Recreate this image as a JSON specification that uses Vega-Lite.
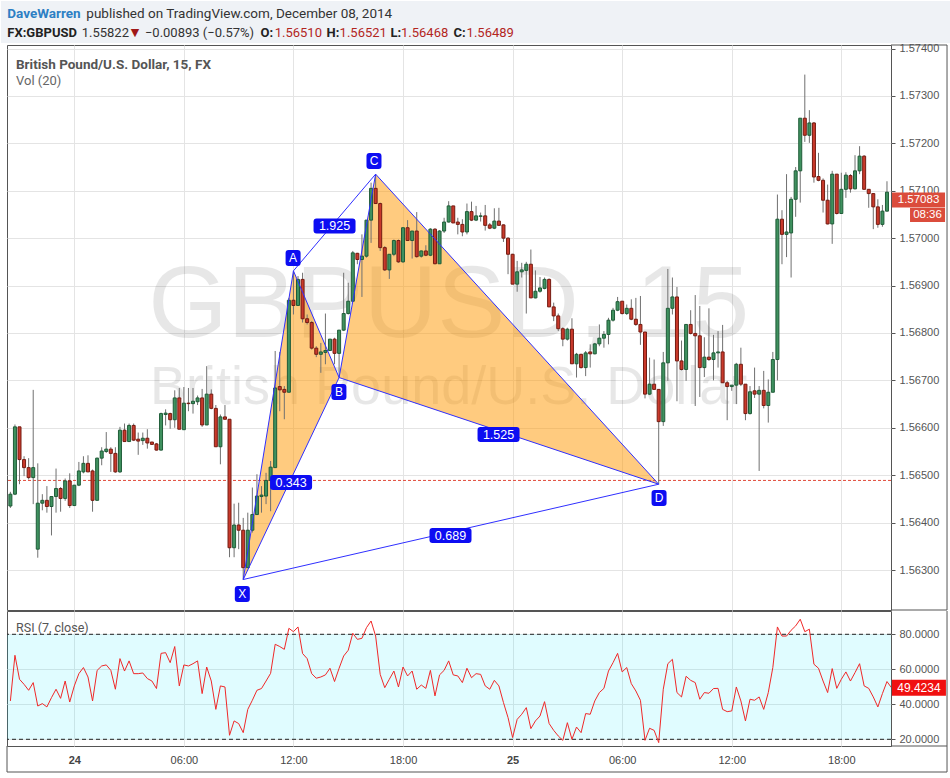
{
"$schema":"https://vega.github.io/schema/vega-lite/v6.json",
"background":"white",
"padding":{"left":0,"top":0,"right":0,"bottom":0},
"spacing":1,
"bounds":"flush",
"data":{"values":[{}]},
"config":{"view":{"stroke":"#555555","strokeWidth":1},"scale":{"continuousPadding":0}},
"datasets":{
"k":[
{"t":-3.5,"o":1.56435,"h":1.56465,"l":1.56431,"c":1.5646},
{"t":-3.25,"o":1.5646,"h":1.56607,"l":1.56458,"c":1.56602},
{"t":-3,"o":1.56602,"h":1.56602,"l":1.56481,"c":1.56533},
{"t":-2.75,"o":1.56533,"h":1.5654,"l":1.56498,"c":1.56516},
{"t":-2.5,"o":1.56516,"h":1.56536,"l":1.56491,"c":1.56495},
{"t":-2.25,"o":1.56495,"h":1.5668,"l":1.56439,"c":1.56516},
{"t":-2,"o":1.56344,"h":1.56525,"l":1.56326,"c":1.56441},
{"t":-1.75,"o":1.56441,"h":1.5646,"l":1.56426,"c":1.56447},
{"t":-1.5,"o":1.56447,"h":1.56477,"l":1.56421,"c":1.56434},
{"t":-1.25,"o":1.56434,"h":1.56455,"l":1.56373,"c":1.56455},
{"t":-1,"o":1.56455,"h":1.56514,"l":1.56421,"c":1.56472},
{"t":-0.75,"o":1.56472,"h":1.56475,"l":1.56423,"c":1.56451},
{"t":-0.5,"o":1.56451,"h":1.56493,"l":1.56446,"c":1.56488},
{"t":-0.25,"o":1.56488,"h":1.56504,"l":1.56431,"c":1.56436},
{"t":0,"o":1.56436,"h":1.56479,"l":1.56435,"c":1.56479},
{"t":0.25,"o":1.56479,"h":1.56528,"l":1.56477,"c":1.56509},
{"t":0.5,"o":1.56507,"h":1.5654,"l":1.56504,"c":1.56525},
{"t":0.75,"o":1.56525,"h":1.56542,"l":1.56507,"c":1.56507},
{"t":1,"o":1.56509,"h":1.56512,"l":1.56423,"c":1.56447},
{"t":1.25,"o":1.56447,"h":1.56537,"l":1.56447,"c":1.56536},
{"t":1.5,"o":1.56536,"h":1.56559,"l":1.56521,"c":1.56551},
{"t":1.75,"o":1.5655,"h":1.56591,"l":1.56547,"c":1.56555},
{"t":2,"o":1.56555,"h":1.56559,"l":1.56507,"c":1.56546},
{"t":2.25,"o":1.56546,"h":1.56559,"l":1.56505,"c":1.56507},
{"t":2.5,"o":1.56507,"h":1.56602,"l":1.56505,"c":1.56595},
{"t":2.75,"o":1.56595,"h":1.56609,"l":1.56571,"c":1.56571},
{"t":3,"o":1.56571,"h":1.56609,"l":1.56571,"c":1.56605},
{"t":3.25,"o":1.56605,"h":1.56609,"l":1.56572,"c":1.56574},
{"t":3.5,"o":1.56576,"h":1.5659,"l":1.56543,"c":1.56572},
{"t":3.75,"o":1.56573,"h":1.5659,"l":1.56564,"c":1.56578},
{"t":4,"o":1.56578,"h":1.56597,"l":1.56556,"c":1.56568},
{"t":4.25,"o":1.5657,"h":1.5657,"l":1.56564,"c":1.56565},
{"t":4.5,"o":1.56566,"h":1.56568,"l":1.56552,"c":1.56553},
{"t":4.75,"o":1.56553,"h":1.56632,"l":1.56552,"c":1.5663},
{"t":5,"o":1.56628,"h":1.56639,"l":1.56605,"c":1.56631},
{"t":5.25,"o":1.5663,"h":1.56632,"l":1.56598,"c":1.56617},
{"t":5.5,"o":1.56617,"h":1.56679,"l":1.566,"c":1.56663},
{"t":5.75,"o":1.56663,"h":1.56684,"l":1.56597,"c":1.56597},
{"t":6,"o":1.56596,"h":1.56686,"l":1.56596,"c":1.56652},
{"t":6.25,"o":1.56652,"h":1.56684,"l":1.56635,"c":1.56651},
{"t":6.5,"o":1.56651,"h":1.56684,"l":1.5663,"c":1.56656},
{"t":6.75,"o":1.56655,"h":1.56668,"l":1.56648,"c":1.56663},
{"t":7,"o":1.56663,"h":1.56682,"l":1.56602,"c":1.56606},
{"t":7.25,"o":1.56606,"h":1.5673,"l":1.56606,"c":1.56671},
{"t":7.5,"o":1.56671,"h":1.56681,"l":1.56639,"c":1.56641},
{"t":7.75,"o":1.56641,"h":1.56648,"l":1.5656,"c":1.5656},
{"t":8,"o":1.5656,"h":1.56628,"l":1.56523,"c":1.56623},
{"t":8.25,"o":1.56623,"h":1.56648,"l":1.56618,"c":1.56618},
{"t":8.5,"o":1.56618,"h":1.56618,"l":1.56327,"c":1.56347},
{"t":8.75,"o":1.56347,"h":1.5644,"l":1.56327,"c":1.56395},
{"t":9,"o":1.56395,"h":1.56442,"l":1.56344,"c":1.56384},
{"t":9.25,"o":1.56384,"h":1.5641,"l":1.5628,"c":1.56305},
{"t":9.5,"o":1.56305,"h":1.56421,"l":1.56305,"c":1.56384},
{"t":9.75,"o":1.56384,"h":1.56474,"l":1.56379,"c":1.56417},
{"t":10,"o":1.56417,"h":1.56502,"l":1.56417,"c":1.56456},
{"t":10.25,"o":1.56455,"h":1.56477,"l":1.56421,"c":1.56458},
{"t":10.5,"o":1.56456,"h":1.56505,"l":1.56439,"c":1.56489},
{"t":10.75,"o":1.56489,"h":1.5653,"l":1.56424,"c":1.56517},
{"t":11,"o":1.56516,"h":1.56762,"l":1.56516,"c":1.56684},
{"t":11.25,"o":1.56687,"h":1.5676,"l":1.56635,"c":1.5668},
{"t":11.5,"o":1.56681,"h":1.56688,"l":1.56618,"c":1.56675},
{"t":11.75,"o":1.56675,"h":1.56874,"l":1.56675,"c":1.56869},
{"t":12,"o":1.56869,"h":1.56931,"l":1.56839,"c":1.56858},
{"t":12.25,"o":1.56858,"h":1.5692,"l":1.56857,"c":1.56913},
{"t":12.5,"o":1.56913,"h":1.56927,"l":1.56822,"c":1.5683},
{"t":12.75,"o":1.5683,"h":1.56839,"l":1.56818,"c":1.56822},
{"t":13,"o":1.56822,"h":1.56825,"l":1.56765,"c":1.56768},
{"t":13.25,"o":1.56768,"h":1.56772,"l":1.56749,"c":1.56755},
{"t":13.5,"o":1.56755,"h":1.56779,"l":1.56716,"c":1.5676},
{"t":13.75,"o":1.56759,"h":1.56841,"l":1.56734,"c":1.56763},
{"t":14,"o":1.56763,"h":1.56787,"l":1.56762,"c":1.56787},
{"t":14.25,"o":1.56787,"h":1.5679,"l":1.56734,"c":1.56757},
{"t":14.5,"o":1.56757,"h":1.56806,"l":1.56706,"c":1.56806},
{"t":14.75,"o":1.56806,"h":1.56927,"l":1.56804,"c":1.56841},
{"t":15,"o":1.56841,"h":1.56906,"l":1.56839,"c":1.56867},
{"t":15.25,"o":1.56867,"h":1.56973,"l":1.56866,"c":1.56969},
{"t":15.5,"o":1.56968,"h":1.56969,"l":1.56945,"c":1.56955},
{"t":15.75,"o":1.56955,"h":1.57008,"l":1.56876,"c":1.56962},
{"t":16,"o":1.56962,"h":1.57038,"l":1.56959,"c":1.57038},
{"t":16.25,"o":1.57038,"h":1.57117,"l":1.5699,"c":1.57105},
{"t":16.5,"o":1.57105,"h":1.57135,"l":1.57073,"c":1.57073},
{"t":16.75,"o":1.57073,"h":1.57075,"l":1.56973,"c":1.5698},
{"t":17,"o":1.5698,"h":1.56983,"l":1.56931,"c":1.56933},
{"t":17.25,"o":1.56933,"h":1.56966,"l":1.56914,"c":1.56966},
{"t":17.5,"o":1.56966,"h":1.56997,"l":1.56962,"c":1.56995},
{"t":17.75,"o":1.56995,"h":1.56997,"l":1.56948,"c":1.5695},
{"t":18,"o":1.5695,"h":1.57023,"l":1.56948,"c":1.57022},
{"t":18.25,"o":1.57022,"h":1.57038,"l":1.56994,"c":1.56995},
{"t":18.5,"o":1.56995,"h":1.57015,"l":1.56957,"c":1.57015},
{"t":18.75,"o":1.57015,"h":1.57055,"l":1.56959,"c":1.56961},
{"t":19,"o":1.56962,"h":1.56974,"l":1.56959,"c":1.56973},
{"t":19.25,"o":1.56973,"h":1.56985,"l":1.56962,"c":1.56964},
{"t":19.5,"o":1.56964,"h":1.57021,"l":1.56962,"c":1.57019},
{"t":19.75,"o":1.57019,"h":1.57021,"l":1.56945,"c":1.56946},
{"t":20,"o":1.56946,"h":1.57017,"l":1.56946,"c":1.57015},
{"t":20.25,"o":1.57015,"h":1.57043,"l":1.57011,"c":1.57034},
{"t":20.5,"o":1.57034,"h":1.57078,"l":1.57033,"c":1.57068},
{"t":20.75,"o":1.57068,"h":1.57068,"l":1.57032,"c":1.57032},
{"t":21,"o":1.57034,"h":1.57043,"l":1.57008,"c":1.57029},
{"t":21.25,"o":1.57029,"h":1.5704,"l":1.57004,"c":1.57013},
{"t":21.5,"o":1.57013,"h":1.57073,"l":1.57008,"c":1.57056},
{"t":21.75,"o":1.57056,"h":1.57077,"l":1.57036,"c":1.57038},
{"t":22,"o":1.57038,"h":1.57068,"l":1.57036,"c":1.57047},
{"t":22.25,"o":1.57046,"h":1.57054,"l":1.57035,"c":1.57047},
{"t":22.5,"o":1.57047,"h":1.5707,"l":1.57016,"c":1.57027},
{"t":22.75,"o":1.57028,"h":1.57032,"l":1.57019,"c":1.57021},
{"t":23,"o":1.57021,"h":1.57063,"l":1.57019,"c":1.57036},
{"t":23.25,"o":1.57036,"h":1.57064,"l":1.57026,"c":1.57027},
{"t":23.5,"o":1.57028,"h":1.57029,"l":1.56992,"c":1.57},
{"t":23.75,"o":1.57,"h":1.57002,"l":1.56924,"c":1.56966},
{"t":24,"o":1.56966,"h":1.56967,"l":1.56903,"c":1.56903},
{"t":24.25,"o":1.56903,"h":1.56952,"l":1.56887,"c":1.56929},
{"t":24.5,"o":1.56929,"h":1.56948,"l":1.56917,"c":1.56933},
{"t":24.75,"o":1.56932,"h":1.5695,"l":1.56841,"c":1.56945},
{"t":25,"o":1.56945,"h":1.56976,"l":1.56874,"c":1.56874},
{"t":25.25,"o":1.56874,"h":1.56932,"l":1.56873,"c":1.56888},
{"t":25.5,"o":1.56888,"h":1.56918,"l":1.56885,"c":1.56895},
{"t":25.75,"o":1.56894,"h":1.56917,"l":1.56892,"c":1.56913},
{"t":26,"o":1.56913,"h":1.56915,"l":1.56855,"c":1.56855},
{"t":26.25,"o":1.56855,"h":1.56864,"l":1.56825,"c":1.56836},
{"t":26.5,"o":1.56836,"h":1.56841,"l":1.56804,"c":1.56809},
{"t":26.75,"o":1.56809,"h":1.56812,"l":1.56772,"c":1.56787},
{"t":27,"o":1.56787,"h":1.56811,"l":1.56784,"c":1.56808},
{"t":27.25,"o":1.56808,"h":1.56831,"l":1.56735,"c":1.56735},
{"t":27.5,"o":1.56735,"h":1.56758,"l":1.56706,"c":1.56755},
{"t":27.75,"o":1.56755,"h":1.56756,"l":1.56725,"c":1.56727},
{"t":28,"o":1.56727,"h":1.56762,"l":1.56709,"c":1.56758},
{"t":28.25,"o":1.5676,"h":1.56776,"l":1.56727,"c":1.56756},
{"t":28.5,"o":1.56756,"h":1.56779,"l":1.56755,"c":1.56777},
{"t":28.75,"o":1.56777,"h":1.56818,"l":1.56772,"c":1.56789},
{"t":29,"o":1.56789,"h":1.56804,"l":1.56769,"c":1.56797},
{"t":29.25,"o":1.56797,"h":1.56832,"l":1.56776,"c":1.56827},
{"t":29.5,"o":1.56827,"h":1.56853,"l":1.56824,"c":1.56848},
{"t":29.75,"o":1.56848,"h":1.56876,"l":1.56846,"c":1.56866},
{"t":30,"o":1.56867,"h":1.56867,"l":1.56839,"c":1.56841},
{"t":30.25,"o":1.56841,"h":1.5686,"l":1.56838,"c":1.56852},
{"t":30.5,"o":1.56852,"h":1.56871,"l":1.56827,"c":1.56829},
{"t":30.75,"o":1.56829,"h":1.56874,"l":1.56815,"c":1.56818},
{"t":31,"o":1.56818,"h":1.56878,"l":1.56775,"c":1.56802},
{"t":31.25,"o":1.56802,"h":1.56802,"l":1.56662,"c":1.56671},
{"t":31.5,"o":1.56671,"h":1.56748,"l":1.56669,"c":1.56692},
{"t":31.75,"o":1.56692,"h":1.56744,"l":1.5668,"c":1.56681},
{"t":32,"o":1.56681,"h":1.56681,"l":1.56481,"c":1.56613},
{"t":32.25,"o":1.56613,"h":1.5676,"l":1.56604,"c":1.56737},
{"t":32.5,"o":1.56737,"h":1.56935,"l":1.56699,"c":1.56852},
{"t":32.75,"o":1.56852,"h":1.56917,"l":1.56839,"c":1.56876},
{"t":33,"o":1.56876,"h":1.56897,"l":1.56656,"c":1.56741},
{"t":33.25,"o":1.56741,"h":1.56784,"l":1.56721,"c":1.56723},
{"t":33.5,"o":1.56723,"h":1.56818,"l":1.56699,"c":1.56818},
{"t":33.75,"o":1.56818,"h":1.56848,"l":1.56797,"c":1.56799},
{"t":34,"o":1.56799,"h":1.5688,"l":1.56646,"c":1.56794},
{"t":34.25,"o":1.56794,"h":1.56857,"l":1.56665,"c":1.56727},
{"t":34.5,"o":1.56727,"h":1.56791,"l":1.56707,"c":1.56749},
{"t":34.75,"o":1.56749,"h":1.56852,"l":1.56741,"c":1.56744},
{"t":35,"o":1.56744,"h":1.56796,"l":1.567,"c":1.56758},
{"t":35.25,"o":1.56758,"h":1.56804,"l":1.56727,"c":1.5676},
{"t":35.5,"o":1.5676,"h":1.56817,"l":1.56695,"c":1.56695},
{"t":35.75,"o":1.56695,"h":1.56699,"l":1.56616,"c":1.56687},
{"t":36,"o":1.56687,"h":1.5669,"l":1.56678,"c":1.5669},
{"t":36.25,"o":1.5669,"h":1.56737,"l":1.5665,"c":1.56734},
{"t":36.5,"o":1.56734,"h":1.56769,"l":1.56688,"c":1.56692},
{"t":36.75,"o":1.56692,"h":1.56692,"l":1.56616,"c":1.5663},
{"t":37,"o":1.5663,"h":1.56688,"l":1.56628,"c":1.56676},
{"t":37.25,"o":1.56678,"h":1.56727,"l":1.56663,"c":1.56671},
{"t":37.5,"o":1.56671,"h":1.56688,"l":1.56509,"c":1.56679},
{"t":37.75,"o":1.56679,"h":1.5672,"l":1.56641,"c":1.56647},
{"t":38,"o":1.56647,"h":1.56702,"l":1.56611,"c":1.56675},
{"t":38.25,"o":1.56675,"h":1.5676,"l":1.56675,"c":1.56744},
{"t":38.5,"o":1.56744,"h":1.57092,"l":1.567,"c":1.5704},
{"t":38.75,"o":1.5704,"h":1.57059,"l":1.56945,"c":1.57008},
{"t":39,"o":1.57008,"h":1.57135,"l":1.5696,"c":1.57013},
{"t":39.25,"o":1.57011,"h":1.57087,"l":1.56917,"c":1.57082},
{"t":39.5,"o":1.57082,"h":1.5715,"l":1.57045,"c":1.57142},
{"t":39.75,"o":1.57142,"h":1.57253,"l":1.57075,"c":1.57253},
{"t":40,"o":1.57253,"h":1.57345,"l":1.57203,"c":1.57217},
{"t":40.25,"o":1.57217,"h":1.5727,"l":1.57201,"c":1.57243},
{"t":40.5,"o":1.57243,"h":1.57245,"l":1.57117,"c":1.57129},
{"t":40.75,"o":1.5713,"h":1.5718,"l":1.5712,"c":1.57122},
{"t":41,"o":1.57122,"h":1.57126,"l":1.57054,"c":1.5708},
{"t":41.25,"o":1.5708,"h":1.57113,"l":1.57029,"c":1.5703},
{"t":41.5,"o":1.5703,"h":1.57142,"l":1.56988,"c":1.57135},
{"t":41.75,"o":1.57135,"h":1.57135,"l":1.5705,"c":1.57052},
{"t":42,"o":1.57052,"h":1.57138,"l":1.57052,"c":1.57103},
{"t":42.25,"o":1.57103,"h":1.57139,"l":1.57085,"c":1.57133},
{"t":42.5,"o":1.57132,"h":1.57135,"l":1.57096,"c":1.57104},
{"t":42.75,"o":1.57104,"h":1.57175,"l":1.57103,"c":1.57142},
{"t":43,"o":1.57142,"h":1.57194,"l":1.57135,"c":1.57173},
{"t":43.25,"o":1.57173,"h":1.57175,"l":1.57103,"c":1.57103},
{"t":43.5,"o":1.57103,"h":1.57103,"l":1.57064,"c":1.57094},
{"t":43.75,"o":1.57094,"h":1.57094,"l":1.57019,"c":1.57066},
{"t":44,"o":1.57066,"h":1.57082,"l":1.57022,"c":1.57029},
{"t":44.25,"o":1.57029,"h":1.5707,"l":1.57024,"c":1.57057},
{"t":44.5,"o":1.57057,"h":1.5712,"l":1.57056,"c":1.57097}
],
"r":[
{"t":-3.5,"v":41.9},{"t":-3.25,"v":68},{"t":-3,"v":54.3},{"t":-2.75,"v":51.4},{"t":-2.5,"v":48},{"t":-2.25,"v":52.4},{"t":-2,"v":39},{"t":-1.75,"v":40.4},{"t":-1.5,"v":38.5},{"t":-1.25,"v":43.8},{"t":-1,"v":48.6},{"t":-0.75,"v":43.4},{"t":-0.5,"v":53.3},{"t":-0.25,"v":41.3},{"t":0,"v":50.5},{"t":0.25,"v":57.5},{"t":0.5,"v":61},{"t":0.75,"v":55.6},{"t":1,"v":41.9},{"t":1.25,"v":59.4},{"t":1.5,"v":61.9},{"t":1.75,"v":62.5},{"t":2,"v":59.4},{"t":2.25,"v":48.6},{"t":2.5,"v":66.1},{"t":2.75,"v":59},{"t":3,"v":64.8},{"t":3.25,"v":57.5},{"t":3.5,"v":57.5},{"t":3.75,"v":57.9},{"t":4,"v":54.7},{"t":4.25,"v":53.3},{"t":4.5,"v":49},{"t":4.75,"v":69.1},{"t":5,"v":69.5},{"t":5.25,"v":63.8},{"t":5.5,"v":73},{"t":5.75,"v":50.5},{"t":6,"v":62.5},{"t":6.25,"v":61.9},{"t":6.5,"v":63.2},{"t":6.75,"v":64.8},{"t":7,"v":46.1},{"t":7.25,"v":61.3},{"t":7.5,"v":53.3},{"t":7.75,"v":37.1},{"t":8,"v":50.5},{"t":8.25,"v":49.9},{"t":8.5,"v":22.3},{"t":8.75,"v":30.5},{"t":9,"v":29},{"t":9.25,"v":23.8},{"t":9.5,"v":37.1},{"t":9.75,"v":42.3},{"t":10,"v":48},{"t":10.25,"v":49},{"t":10.5,"v":53.3},{"t":10.75,"v":57.7},{"t":11,"v":74.3},{"t":11.25,"v":73},{"t":11.5,"v":71.4},{"t":11.75,"v":83.4},{"t":12,"v":81.5},{"t":12.25,"v":84.2},{"t":12.5,"v":69},{"t":12.75,"v":66.1},{"t":13,"v":57.5},{"t":13.25,"v":54.9},{"t":13.5,"v":55.6},{"t":13.75,"v":56.8},{"t":14,"v":60.6},{"t":14.25,"v":53},{"t":14.5,"v":60.6},{"t":14.75,"v":67.6},{"t":15,"v":70.9},{"t":15.25,"v":80.6},{"t":15.5,"v":77.1},{"t":15.75,"v":77.7},{"t":16,"v":83.8},{"t":16.25,"v":87.6},{"t":16.5,"v":79},{"t":16.75,"v":57.1},{"t":17,"v":49.5},{"t":17.25,"v":54.3},{"t":17.5,"v":59},{"t":17.75,"v":49.9},{"t":18,"v":61.3},{"t":18.25,"v":56.2},{"t":18.5,"v":59},{"t":18.75,"v":48.6},{"t":19,"v":51},{"t":19.25,"v":49.1},{"t":19.5,"v":59.4},{"t":19.75,"v":44.8},{"t":20,"v":56.8},{"t":20.25,"v":59.4},{"t":20.5,"v":64.8},{"t":20.75,"v":56.8},{"t":21,"v":56.2},{"t":21.25,"v":52.4},{"t":21.5,"v":60.6},{"t":21.75,"v":55.2},{"t":22,"v":57.5},{"t":22.25,"v":57.1},{"t":22.5,"v":50.5},{"t":22.75,"v":48.6},{"t":23,"v":53.7},{"t":23.25,"v":50.5},{"t":23.5,"v":41},{"t":23.75,"v":32.4},{"t":24,"v":21},{"t":24.25,"v":31.4},{"t":24.5,"v":34.3},{"t":24.75,"v":38.1},{"t":25,"v":26.1},{"t":25.25,"v":30.5},{"t":25.5,"v":33.3},{"t":25.75,"v":41.5},{"t":26,"v":29},{"t":26.25,"v":25.1},{"t":26.5,"v":21.9},{"t":26.75,"v":19.4},{"t":27,"v":29.5},{"t":27.25,"v":20},{"t":27.5,"v":27},{"t":27.75,"v":23.8},{"t":28,"v":34.7},{"t":28.25,"v":34.3},{"t":28.5,"v":41.9},{"t":28.75,"v":46.7},{"t":29,"v":49.1},{"t":29.25,"v":59},{"t":29.5,"v":63.8},{"t":29.75,"v":69.1},{"t":30,"v":58.5},{"t":30.25,"v":61},{"t":30.5,"v":51.8},{"t":30.75,"v":47.6},{"t":31,"v":42.3},{"t":31.25,"v":19.4},{"t":31.5,"v":26.3},{"t":31.75,"v":25.1},{"t":32,"v":18.1},{"t":32.25,"v":48.6},{"t":32.5,"v":63.2},{"t":32.75,"v":65.7},{"t":33,"v":46.7},{"t":33.25,"v":44.2},{"t":33.5,"v":56},{"t":33.75,"v":53.7},{"t":34,"v":52.4},{"t":34.25,"v":42.9},{"t":34.5,"v":46.7},{"t":34.75,"v":46.3},{"t":35,"v":49},{"t":35.25,"v":49.1},{"t":35.5,"v":37.1},{"t":35.75,"v":35.8},{"t":36,"v":36.2},{"t":36.25,"v":49.9},{"t":36.5,"v":41.9},{"t":36.75,"v":30.5},{"t":37,"v":42.9},{"t":37.25,"v":42.3},{"t":37.5,"v":44.2},{"t":37.75,"v":37.1},{"t":38,"v":46.7},{"t":38.25,"v":61},{"t":38.5,"v":84.2},{"t":38.75,"v":79},{"t":39,"v":79},{"t":39.25,"v":82.3},{"t":39.5,"v":84.8},{"t":39.75,"v":88.6},{"t":40,"v":81.5},{"t":40.25,"v":82.9},{"t":40.5,"v":62.9},{"t":40.75,"v":60.6},{"t":41,"v":53.3},{"t":41.25,"v":46.7},{"t":41.5,"v":60.4},{"t":41.75,"v":49.1},{"t":42,"v":54.3},{"t":42.25,"v":58.5},{"t":42.5,"v":53.3},{"t":42.75,"v":58.1},{"t":43,"v":63.2},{"t":43.25,"v":50.5},{"t":43.5,"v":49.1},{"t":43.75,"v":44.2},{"t":44,"v":38.5},{"t":44.25,"v":46.1},{"t":44.5,"v":53},{"t":44.75,"v":49.42}
],
"tri":[
{"g":"XAB","t":9.25,"y":1.5628,"y2":1.5628},{"g":"XAB","t":12,"y":1.56931,"y2":1.56503},{"g":"XAB","t":14.5,"y":1.56706,"y2":1.56706},
{"g":"BCD","t":14.5,"y":1.56706,"y2":1.56706},{"g":"BCD","t":16.5,"y":1.57135,"y2":1.5668},{"g":"BCD","t":32,"y":1.56481,"y2":1.56481}
],
"seg":[
{"t":9.25,"p":1.5628,"t2":12,"p2":1.56931},
{"t":12,"p":1.56931,"t2":14.5,"p2":1.56706},
{"t":14.5,"p":1.56706,"t2":16.5,"p2":1.57135},
{"t":16.5,"p":1.57135,"t2":32,"p2":1.56481},
{"t":9.25,"p":1.5628,"t2":14.5,"p2":1.56706},
{"t":14.5,"p":1.56706,"t2":32,"p2":1.56481},
{"t":12,"p":1.56931,"t2":16.5,"p2":1.57135},
{"t":9.25,"p":1.5628,"t2":32,"p2":1.56481}
],
"letters":[
{"t":9.2,"p":1.562494,"s":"X"},{"t":11.98,"p":1.569581,"s":"A"},{"t":14.49,"p":1.566755,"s":"B"},{"t":16.41,"p":1.571627,"s":"C"},{"t":32.02,"p":1.564519,"s":"D"}
],
"ratios":[
{"t":14.25,"p":1.570256,"s":"1.925"},{"t":11.87,"p":1.564846,"s":"0.343"},{"t":23.23,"p":1.565858,"s":"1.525"},{"t":20.6,"p":1.563728,"s":"0.689"}
]
},
"vconcat":[
{
"width":884,"height":565,
"layer":[
{"mark":{"type":"rect","color":"#eff2f6","opacity":1},
 "encoding":{"x":{"datum":-4.0136,"type":"quantitative","scale":{"domain":[-3.685,44.72],"padding":0},"title":null,"axis":{"values":[0,6,12,18,24,30,36,42],"labels":false,"ticks":false,"domain":false,"grid":true,"gridColor":"#e4e4e4"}},
 "x2":{"datum":48.007},
 "y":{"datum":1.575002,"type":"quantitative","scale":{"domain":[1.562157,1.574074]},"title":null,"axis":{"orient":"right","values":[1.563,1.564,1.565,1.566,1.567,1.568,1.569,1.57,1.571,1.572,1.573,1.574],"format":".5f","grid":true,"gridColor":"#e4e4e4","domain":false,"tickSize":4,"tickColor":"#555555","labelPadding":4,"labelFont":"Liberation Sans","labelFontSize":11,"labelColor":"#555555"}},
 "y2":{"datum":1.574116}}},
{"mark":{"type":"rule","color":"#555555","strokeWidth":1},
 "encoding":{"x":{"datum":47.788,"type":"quantitative","scale":{"domain":[-3.685,44.72]},"title":null}}},
{"mark":{"type":"rule","color":"#555555","strokeWidth":1},
 "encoding":{"x":{"datum":44.72,"type":"quantitative","scale":{"domain":[-3.685,44.72]},"title":null},"x2":{"datum":47.788},"y":{"datum":1.574074,"type":"quantitative","scale":{"domain":[1.562157,1.574074]},"title":null}}},
{"mark":{"type":"rule","color":"#555555","strokeWidth":1},
 "encoding":{"x":{"datum":44.72,"type":"quantitative","scale":{"domain":[-3.685,44.72]},"title":null},"x2":{"datum":47.788},"y":{"datum":1.562157,"type":"quantitative","scale":{"domain":[1.562157,1.574074]},"title":null}}},
{"mark":{"type":"text","text":"GBPUSD, 15","font":"Liberation Sans","fontSize":102,"color":"#000000","opacity":0.09,"align":"center","baseline":"alphabetic"},
 "encoding":{"x":{"datum":20.5,"type":"quantitative","scale":{"domain":[-3.685,44.72]},"title":null},
 "y":{"datum":1.567915,"type":"quantitative","scale":{"domain":[1.562157,1.574074]},"title":null}}},
{"mark":{"type":"text","text":"British Pound/U.S. Dollar","font":"Liberation Sans","fontSize":54,"color":"#000000","opacity":0.09,"align":"center","baseline":"alphabetic"},
 "encoding":{"x":{"datum":20.5,"type":"quantitative","scale":{"domain":[-3.685,44.72]},"title":null},"y":{"datum":1.566502,"type":"quantitative","scale":{"domain":[1.562157,1.574074]},"title":null}}},
{"data":{"name":"tri"},"mark":{"type":"area","color":"#ff9800","opacity":0.5},
 "encoding":{"x":{"field":"t","type":"quantitative","scale":{"domain":[-3.685,44.72]},"title":null},"y":{"field":"y","type":"quantitative","scale":{"domain":[1.562157,1.574074]},"title":null},"y2":{"field":"y2"},"detail":{"field":"g"}}},
{"mark":{"type":"rule","color":"#e04a3a","strokeDash":[3,2],"strokeWidth":1},
 "encoding":{"y":{"datum":1.56489,"type":"quantitative","scale":{"domain":[1.562157,1.574074]},"title":null}}},
{"data":{"name":"k"},"mark":{"type":"rule","color":"#707070","strokeWidth":1},
 "encoding":{"x":{"field":"t","type":"quantitative","scale":{"domain":[-3.685,44.72]},"title":null},"y":{"field":"h","type":"quantitative","scale":{"domain":[1.562157,1.574074]},"title":null},"y2":{"field":"l"}}},
{"data":{"name":"k"},"mark":{"type":"bar","width":3,"strokeWidth":1},
 "encoding":{"x":{"field":"t","type":"quantitative","scale":{"domain":[-3.685,44.72],"padding":0},"title":null},"y":{"field":"o","type":"quantitative","scale":{"domain":[1.562157,1.574074]},"title":null},"y2":{"field":"c"},
 "fill":{"condition":{"test":"datum.c >= datum.o","value":"#3f915f"},"value":"#c9392b"},
 "stroke":{"condition":{"test":"datum.c >= datum.o","value":"#1f5c38"},"value":"#741c12"}}},
{"data":{"name":"seg"},"mark":{"type":"rule","color":"#2f2fff","strokeWidth":1},
 "encoding":{"x":{"field":"t","type":"quantitative","scale":{"domain":[-3.685,44.72]},"title":null},"y":{"field":"p","type":"quantitative","scale":{"domain":[1.562157,1.574074]},"title":null},"x2":{"field":"t2"},"y2":{"field":"p2"}}},
{"data":{"name":"letters"},"mark":{"type":"point","filled":true,"opacity":1,"strokeWidth":0,"color":"#0d0df2","size":256,"shape":"M-0.5625,-1L0.5625,-1Q0.9375,-1 0.9375,-0.625L0.9375,0.625Q0.9375,1 0.5625,1L-0.5625,1Q-0.9375,1 -0.9375,0.625L-0.9375,-0.625Q-0.9375,-1 -0.5625,-1Z"},
 "encoding":{"x":{"field":"t","type":"quantitative","scale":{"domain":[-3.685,44.72]},"title":null},"y":{"field":"p","type":"quantitative","scale":{"domain":[1.562157,1.574074]},"title":null}}},
{"data":{"name":"letters"},"mark":{"type":"text","color":"white","font":"Liberation Sans","fontSize":12,"align":"center","baseline":"middle"},
 "encoding":{"x":{"field":"t","type":"quantitative","scale":{"domain":[-3.685,44.72]},"title":null},"y":{"field":"p","type":"quantitative","scale":{"domain":[1.562157,1.574074]},"title":null},"text":{"field":"s"}}},
{"data":{"name":"ratios"},"mark":{"type":"point","filled":true,"opacity":1,"strokeWidth":0,"color":"#0d0df2","size":1764,"shape":"M-0.857,-0.357L0.857,-0.357Q1,-0.357 1,-0.214L1,0.214Q1,0.357 0.857,0.357L-0.857,0.357Q-1,0.357 -1,0.214L-1,-0.214Q-1,-0.357 -0.857,-0.357Z"},
 "encoding":{"x":{"field":"t","type":"quantitative","scale":{"domain":[-3.685,44.72]},"title":null},"y":{"field":"p","type":"quantitative","scale":{"domain":[1.562157,1.574074]},"title":null}}},
{"data":{"name":"ratios"},"mark":{"type":"text","color":"white","font":"Liberation Sans","fontSize":12.5,"align":"center","baseline":"middle"},
 "encoding":{"x":{"field":"t","type":"quantitative","scale":{"domain":[-3.685,44.72]},"title":null},"y":{"field":"p","type":"quantitative","scale":{"domain":[1.562157,1.574074]},"title":null},"text":{"field":"s"}}},
{"mark":{"type":"text","text":"British Pound/U.S. Dollar, 15, FX","font":"Roboto","fontSize":13.5,"fontWeight":"bold","color":"#555555","align":"left","baseline":"middle"},
 "encoding":{"x":{"datum":-3.192,"type":"quantitative","scale":{"domain":[-3.685,44.72]},"title":null},"y":{"datum":1.573648,"type":"quantitative","scale":{"domain":[1.562157,1.574074]},"title":null}}},
{"mark":{"type":"text","text":"Vol (20)","font":"Roboto","fontSize":13,"color":"#666666","align":"left","baseline":"middle"},
 "encoding":{"x":{"datum":-3.192,"type":"quantitative","scale":{"domain":[-3.685,44.72]},"title":null},"y":{"datum":1.573314,"type":"quantitative","scale":{"domain":[1.562157,1.574074]},"title":null}}},
{"mark":{"type":"text","text":"DaveWarren","font":"Roboto","fontSize":13.5,"fontWeight":"bold","color":"#2d7fc4","align":"left","baseline":"middle"},
 "encoding":{"x":{"datum":-3.669,"type":"quantitative","scale":{"domain":[-3.685,44.72]},"title":null},"y":{"datum":1.574721,"type":"quantitative","scale":{"domain":[1.562157,1.574074]},"title":null}}},
{"mark":{"type":"text","text":"published on TradingView.com, December 08, 2014","font":"Roboto","fontSize":13.5,"color":"#333333","align":"left","baseline":"middle"},
 "encoding":{"x":{"datum":0.657,"type":"quantitative","scale":{"domain":[-3.685,44.72]},"title":null},"y":{"datum":1.574721,"type":"quantitative","scale":{"domain":[1.562157,1.574074]},"title":null}}},
{"mark":{"type":"text","text":"FX:GBPUSD","font":"Roboto","fontSize":13,"fontWeight":"bold","color":"#222222","align":"left","baseline":"middle"},
 "encoding":{"x":{"datum":-3.669,"type":"quantitative","scale":{"domain":[-3.685,44.72]},"title":null},"y":{"datum":1.574335,"type":"quantitative","scale":{"domain":[1.562157,1.574074]},"title":null}}},
{"mark":{"type":"text","text":"1.55822","font":"Roboto","fontSize":13,"color":"#333333","align":"left","baseline":"middle"},
 "encoding":{"x":{"datum":0.405,"type":"quantitative","scale":{"domain":[-3.685,44.72]},"title":null},"y":{"datum":1.574335,"type":"quantitative","scale":{"domain":[1.562157,1.574074]},"title":null}}},
{"mark":{"type":"text","text":"▼","font":"DejaVu Sans","fontSize":11,"color":"#a01818","align":"left","baseline":"middle"},
 "encoding":{"x":{"datum":3.094,"type":"quantitative","scale":{"domain":[-3.685,44.72]},"title":null},"y":{"datum":1.574335,"type":"quantitative","scale":{"domain":[1.562157,1.574074]},"title":null}}},
{"mark":{"type":"text","text":"−0.00893 (−0.57%)","font":"Roboto","fontSize":13,"color":"#333333","align":"left","baseline":"middle"},
 "encoding":{"x":{"datum":3.866,"type":"quantitative","scale":{"domain":[-3.685,44.72]},"title":null},"y":{"datum":1.574335,"type":"quantitative","scale":{"domain":[1.562157,1.574074]},"title":null}}},
{"mark":{"type":"text","text":"O:","font":"Roboto","fontSize":13,"fontWeight":"bold","color":"#222222","align":"left","baseline":"middle"},
 "encoding":{"x":{"datum":10.201,"type":"quantitative","scale":{"domain":[-3.685,44.72]},"title":null},"y":{"datum":1.574335,"type":"quantitative","scale":{"domain":[1.562157,1.574074]},"title":null}}},
{"mark":{"type":"text","text":"1.56510","font":"Roboto","fontSize":13,"color":"#b3261e","align":"left","baseline":"middle"},
 "encoding":{"x":{"datum":10.974,"type":"quantitative","scale":{"domain":[-3.685,44.72]},"title":null},"y":{"datum":1.574335,"type":"quantitative","scale":{"domain":[1.562157,1.574074]},"title":null}}},
{"mark":{"type":"text","text":"H:","font":"Roboto","fontSize":13,"fontWeight":"bold","color":"#222222","align":"left","baseline":"middle"},
 "encoding":{"x":{"datum":13.815,"type":"quantitative","scale":{"domain":[-3.685,44.72]},"title":null},"y":{"datum":1.574335,"type":"quantitative","scale":{"domain":[1.562157,1.574074]},"title":null}}},
{"mark":{"type":"text","text":"1.56521","font":"Roboto","fontSize":13,"color":"#b3261e","align":"left","baseline":"middle"},
 "encoding":{"x":{"datum":14.527,"type":"quantitative","scale":{"domain":[-3.685,44.72]},"title":null},"y":{"datum":1.574335,"type":"quantitative","scale":{"domain":[1.562157,1.574074]},"title":null}}},
{"mark":{"type":"text","text":"L:","font":"Roboto","fontSize":13,"fontWeight":"bold","color":"#222222","align":"left","baseline":"middle"},
 "encoding":{"x":{"datum":17.315,"type":"quantitative","scale":{"domain":[-3.685,44.72]},"title":null},"y":{"datum":1.574335,"type":"quantitative","scale":{"domain":[1.562157,1.574074]},"title":null}}},
{"mark":{"type":"text","text":"1.56468","font":"Roboto","fontSize":13,"color":"#b3261e","align":"left","baseline":"middle"},
 "encoding":{"x":{"datum":17.89,"type":"quantitative","scale":{"domain":[-3.685,44.72]},"title":null},"y":{"datum":1.574335,"type":"quantitative","scale":{"domain":[1.562157,1.574074]},"title":null}}},
{"mark":{"type":"text","text":"C:","font":"Roboto","fontSize":13,"fontWeight":"bold","color":"#222222","align":"left","baseline":"middle"},
 "encoding":{"x":{"datum":20.77,"type":"quantitative","scale":{"domain":[-3.685,44.72]},"title":null},"y":{"datum":1.574335,"type":"quantitative","scale":{"domain":[1.562157,1.574074]},"title":null}}},
{"mark":{"type":"text","text":"1.56489","font":"Roboto","fontSize":13,"color":"#b3261e","align":"left","baseline":"middle"},
 "encoding":{"x":{"datum":21.482,"type":"quantitative","scale":{"domain":[-3.685,44.72]},"title":null},"y":{"datum":1.574335,"type":"quantitative","scale":{"domain":[1.562157,1.574074]},"title":null}}},
{"mark":{"type":"point","filled":true,"opacity":1,"strokeWidth":0,"color":"#db4c3c","size":2809,"shape":"M-1,-0.283L1,-0.283L1,0.283L-1,0.283Z"},
 "encoding":{"x":{"datum":46.227,"type":"quantitative","scale":{"domain":[-3.685,44.72]},"title":null},"y":{"datum":1.570805,"type":"quantitative","scale":{"domain":[1.562157,1.574074]},"title":null}}},
{"mark":{"type":"text","text":"1.57083","font":"Liberation Sans","fontSize":11.5,"color":"white","align":"center","baseline":"middle"},
 "encoding":{"x":{"datum":46.227,"type":"quantitative","scale":{"domain":[-3.685,44.72]},"title":null},"y":{"datum":1.570805,"type":"quantitative","scale":{"domain":[1.562157,1.574074]},"title":null}}},
{"mark":{"type":"point","filled":true,"opacity":1,"strokeWidth":0,"color":"#db4c3c","size":1225,"shape":"M-1,-0.4L1,-0.4L1,0.4L-1,0.4Z"},
 "encoding":{"x":{"datum":46.72,"type":"quantitative","scale":{"domain":[-3.685,44.72]},"title":null},"y":{"datum":1.570488,"type":"quantitative","scale":{"domain":[1.562157,1.574074]},"title":null}}},
{"mark":{"type":"text","text":"08:36","font":"Liberation Sans","fontSize":11.5,"color":"white","align":"center","baseline":"middle"},
 "encoding":{"x":{"datum":46.72,"type":"quantitative","scale":{"domain":[-3.685,44.72]},"title":null},"y":{"datum":1.570488,"type":"quantitative","scale":{"domain":[1.562157,1.574074]},"title":null}}}
]
},
{
"width":884,"height":135,
"layer":[
{"mark":{"type":"rect","color":"#00e5ff","opacity":0.12},
 "encoding":{"x":{"datum":-3.685,"type":"quantitative","scale":{"domain":[-3.685,44.72]},"title":null,"axis":{"values":[0,6,12,18,24,30,36,42],"labelExpr":"datum.value % 24 == 0 ? '' + (24 + datum.value / 24) : (datum.value % 24 < 10 ? '0' : '') + (datum.value % 24) + ':00'","labelFontWeight":{"condition":{"test":"datum.value % 24 == 0","value":"bold"},"value":"normal"},"labelColor":"#444444","labelFont":"Liberation Sans","labelFontSize":11,"grid":true,"gridColor":"#e4e4e4","domain":false,"ticks":false,"labelPadding":8}},
 "x2":{"datum":44.72},
 "y":{"datum":80,"type":"quantitative","scale":{"domain":[16.17,93.31]},"title":null,"axis":{"orient":"right","values":[20,40,60,80],"format":".4f","grid":true,"gridColor":"#e4e4e4","domain":false,"tickSize":4,"tickColor":"#555555","labelPadding":4,"labelFont":"Liberation Sans","labelFontSize":11,"labelColor":"#555555"}},
 "y2":{"datum":20}}},
{"mark":{"type":"rule","color":"#555555","strokeWidth":1},
 "encoding":{"x":{"datum":47.788,"type":"quantitative","scale":{"domain":[-3.685,44.72]},"title":null},"y":{"datum":93.31,"type":"quantitative","scale":{"domain":[16.17,93.31]},"title":null},"y2":{"datum":1.313}}},
{"mark":{"type":"rule","color":"#555555","strokeWidth":1},
 "encoding":{"x":{"datum":-3.685,"type":"quantitative","scale":{"domain":[-3.685,44.72]},"title":null},"y":{"datum":16.17,"type":"quantitative","scale":{"domain":[16.17,93.31]},"title":null},"y2":{"datum":1.313}}},
{"mark":{"type":"rule","color":"#555555","strokeWidth":1},
 "encoding":{"x":{"datum":-3.685,"type":"quantitative","scale":{"domain":[-3.685,44.72]},"title":null},"x2":{"datum":47.788},"y":{"datum":1.313,"type":"quantitative","scale":{"domain":[16.17,93.31]},"title":null}}},
{"mark":{"type":"rule","color":"#555555","strokeWidth":1},
 "encoding":{"x":{"datum":44.72,"type":"quantitative","scale":{"domain":[-3.685,44.72]},"title":null},"x2":{"datum":47.788},"y":{"datum":16.17,"type":"quantitative","scale":{"domain":[16.17,93.31]},"title":null}}},
{"mark":{"type":"rule","color":"#222222","strokeDash":[4,3],"strokeWidth":1},
 "encoding":{"y":{"datum":80,"type":"quantitative","scale":{"domain":[16.17,93.31]},"title":null}}},
{"mark":{"type":"rule","color":"#222222","strokeDash":[4,3],"strokeWidth":1},
 "encoding":{"y":{"datum":20,"type":"quantitative","scale":{"domain":[16.17,93.31]},"title":null}}},
{"data":{"name":"r"},"mark":{"type":"line","color":"#f02828","strokeWidth":1,"clip":true},
 "encoding":{"x":{"field":"t","type":"quantitative","scale":{"domain":[-3.685,44.72]},"title":null},"y":{"field":"v","type":"quantitative","scale":{"domain":[16.17,93.31]},"title":null}}},
{"mark":{"type":"text","text":"RSI (7, close)","font":"Roboto","fontSize":12.5,"color":"#555555","align":"left","baseline":"middle"},
 "encoding":{"x":{"datum":-3.192,"type":"quantitative","scale":{"domain":[-3.685,44.72]},"title":null},"y":{"datum":83.4,"type":"quantitative","scale":{"domain":[16.17,93.31]},"title":null}}},
{"mark":{"type":"point","filled":true,"opacity":1,"strokeWidth":0,"color":"#f01010","size":2916,"shape":"M-1,-0.296L1,-0.296L1,0.296L-1,0.296Z"},
 "encoding":{"x":{"datum":46.25,"type":"quantitative","scale":{"domain":[-3.685,44.72]},"title":null},"y":{"datum":49.42,"type":"quantitative","scale":{"domain":[16.17,93.31]},"title":null}}},
{"mark":{"type":"text","text":"49.4234","font":"Liberation Sans","fontSize":12,"color":"white","align":"center","baseline":"middle"},
 "encoding":{"x":{"datum":46.25,"type":"quantitative","scale":{"domain":[-3.685,44.72]},"title":null},"y":{"datum":49.42,"type":"quantitative","scale":{"domain":[16.17,93.31]},"title":null}}}
]
}
]
}
